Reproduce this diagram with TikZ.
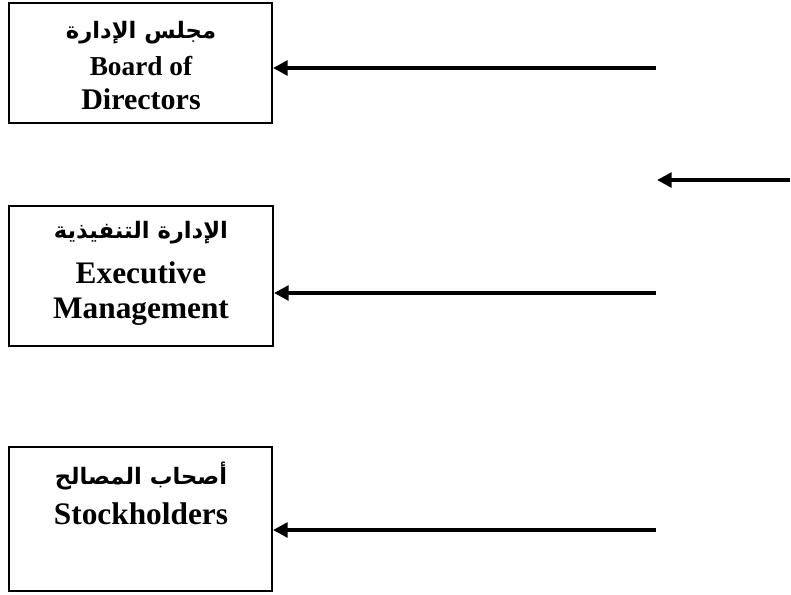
\documentclass[tikz,border=0pt]{standalone}
\usepackage{fontspec}
\setmainfont{Liberation Serif}
\newfontfamily\arabicfont[Script=Arabic]{DejaVu Sans}
\TeXXeTstate=1
\usepackage{tikz}
\usetikzlibrary{arrows.meta}
\tikzset{
    box/.style={draw=black, line width=1.5pt, rectangle, inner sep=0pt},
    flow/.style={draw=black, line width=2.7pt, -{Triangle[length=11pt,width=11pt]}},
    entext/.style={anchor=base, inner sep=0pt, font=\bfseries\fontsize{23.5pt}{28pt}\selectfont},
    ensmall/.style={anchor=base, inner sep=0pt, font=\bfseries\fontsize{20.5pt}{24pt}\selectfont},
    artext/.style={anchor=base, inner sep=0pt, font=\arabicfont\bfseries\fontsize{17pt}{20pt}\selectfont},
}

\begin{document}
\begin{tikzpicture}[x=0.75pt, y=-0.75pt]
\useasboundingbox (0,0) rectangle (791,594);
	% boxes
	\node[box, minimum width=197.25pt, minimum height=90pt] (bod) at (140.5,63) {};
	\node[box, minimum width=198pt, minimum height=105pt] (exec) at (141,276) {};
	\node[box, minimum width=197.25pt, minimum height=108pt] (stake) at (140.5,519) {};
	% labels
	\node[artext] (bodAr) at (141,38) {\beginR مجلس الإدارة\endR};
	\node[ensmall] (bodEnA) at (141,75) {Board of};
	\node[entext, font=\bfseries\fontsize{22.5pt}{27pt}\selectfont] (bodEnB) at (141,109) {Directors};
	\node[artext] (execAr) at (141,238) {\beginR الإدارة التنفيذية\endR};
	\node[entext] (execEnA) at (141,283) {Executive};
	\node[entext] (execEnB) at (141,318) {Management};
	\node[artext] (stakeAr) at (141,484) {\beginR أصحاب المصالح\endR};
	\node[entext] (stakeEn) at (141,524) {Stockholders};
	% arrows
	\coordinate (bodIn) at (656,68);
	\coordinate (extA) at (790,180);
	\coordinate (extB) at (657,180);
	\coordinate (execIn) at (656,293);
	\coordinate (stakeIn) at (656,530);
	\draw[flow] (bodIn) -- (bodIn -| bod.east);
	\draw[flow] (extA) -- (extB);
	\draw[flow] (execIn) -- (execIn -| exec.east);
	\draw[flow] (stakeIn) -- (stakeIn -| stake.east);
\end{tikzpicture}
\end{document}
